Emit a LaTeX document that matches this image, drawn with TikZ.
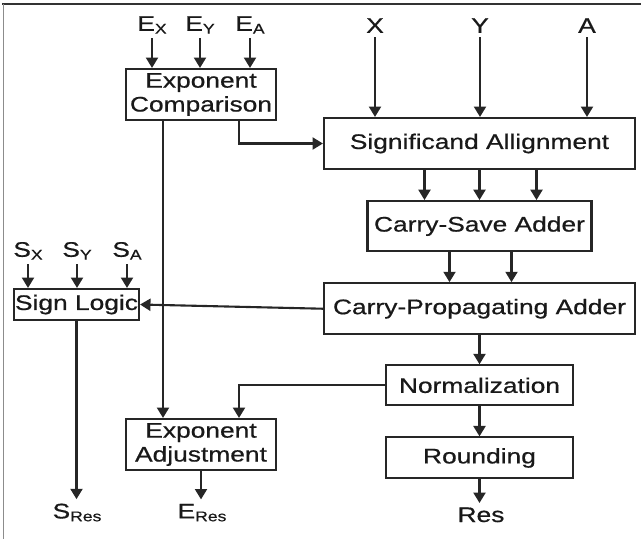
\documentclass[tikz,border=0pt]{standalone}
\usepackage{fontspec}
\setmainfont[FakeStretch=1.25, FakeBold=0.6]{Liberation Sans}
\usetikzlibrary{positioning, arrows.meta, calc}

\newcommand{\blkfont}{\fontsize{15}{17}\selectfont}
\newcommand{\subs}[1]{\raisebox{-2pt}{\fontsize{10}{10}\selectfont #1}}

\begin{document}
\begin{tikzpicture}[
    blk/.style={rectangle, draw=black!85, line width=1.5pt, fill=white, inner sep=0pt, align=center, text=black!90, font=\blkfont},
    lbl/.style={inner sep=3pt, anchor=base, text=black!90, font=\blkfont},
    arr/.style={-{Triangle[length=0.26cm, width=0.3cm]}, line width=1.5pt, draw=black!85},
    frame/.style={line width=1.4pt}
]
    \useasboundingbox (0,0) rectangle (16.025,-13.475);
    \draw[frame, draw=black!80] (0.06,-0.1) -- (16.025,-0.1);
    \draw[frame, draw=black!45] (0.0875,-0.1) -- (0.0875,-13.475);

    % blocks
    \node[blk, minimum width=3.75cm, minimum height=1.275cm] (expcmp) at (5.025,-2.3625) {Exponent\\Comparison};
    \node[blk, minimum width=7.775cm, minimum height=1.275cm] (sigal) at (11.9875,-3.5875) {Significand Allignment};
    \node[blk, minimum width=5.6cm, minimum height=1.25cm] (csa) [below=0.75cm of sigal] {Carry-Save Adder};
    \node[blk, minimum width=7.775cm, minimum height=1.275cm] (cpa) [below=0.75cm of csa] {Carry-Propagating Adder};
    \node[blk, minimum width=4.675cm, minimum height=1.0cm] (norm) [below=0.725cm of cpa] {Normalization};
    \node[blk, minimum width=4.675cm, minimum height=1.025cm] (round) [below=0.75cm of norm] {Rounding};
    \node[blk, minimum width=3.125cm, minimum height=0.775cm] (sign) at (1.9125,-7.6125) {Sign Logic};
    \node[blk, minimum width=3.75cm, minimum height=1.275cm] (expadj) at (5.025,-11.1125) {Exponent\\Adjustment};

    % inputs and outputs
    \node[lbl] (ex) at (3.8,-0.77) {E\subs{X}};
    \node[lbl] (ey) at (5.0,-0.77) {E\subs{Y}};
    \node[lbl] (ea) at (6.25,-0.77) {E\subs{A}};
    \node[lbl] (xin) at (9.375,-0.82) {X};
    \node[lbl] (yin) at (12.0,-0.82) {Y};
    \node[lbl] (ain) at (14.675,-0.82) {A};
    \node[lbl] (sx) at (0.7,-6.42) {S\subs{X}};
    \node[lbl] (sy) at (1.925,-6.42) {S\subs{Y}};
    \node[lbl] (sa) at (3.175,-6.42) {S\subs{A}};
    \node[lbl] (sres) at (1.925,-12.96) {S\subs{Res}};
    \node[lbl] (eres) at (5.05,-12.96) {E\subs{Res}};
    \node[lbl] (res) at (12.025,-13.05) {Res};

    \draw[arr] (ex) -- (ex |- expcmp.north);
    \draw[arr] (ey) -- (ey |- expcmp.north);
    \draw[arr] (ea) -- (ea |- expcmp.north);
    \draw[arr] (xin) -- (xin |- sigal.north);
    \draw[arr] (yin) -- (yin |- sigal.north);
    \draw[arr] (ain) -- (ain |- sigal.north);
    \draw[arr] (sx) -- (sx |- sign.north);
    \draw[arr] (sy) -- (sy |- sign.north);
    \draw[arr] (sa) -- (sa |- sign.north);

    \draw[arr] ([xshift=0.95cm]expcmp.south) |- (sigal.west);
    \draw[arr] ([xshift=-0.95cm]expcmp.south) -- ([xshift=-0.95cm]expadj.north);
    \draw[arr] ([xshift=-1.375cm]sigal.south) -- ([xshift=-1.375cm]sigal.south |- csa.north);
    \draw[arr] (sigal.south) -- (sigal.south |- csa.north);
    \draw[arr] ([xshift=1.425cm]sigal.south) -- ([xshift=1.425cm]sigal.south |- csa.north);
    \draw[arr] ([xshift=-0.75cm]csa.south) -- ([xshift=-0.75cm]csa.south |- cpa.north);
    \draw[arr] ([xshift=0.8cm]csa.south) -- ([xshift=0.8cm]csa.south |- cpa.north);
    \draw[arr] (cpa.west) -- (sign.east);
    \draw[arr] (cpa.south) -- (cpa.south |- norm.north);
    \draw[arr] (norm.west) -| ([xshift=0.95cm]expadj.north);
    \draw[arr] (norm.south) -- (round.north);
    \draw[arr] (round.south) -- (round.south |- res.north);
    \draw[arr] (sign.south) -- (sign.south |- sres.north);
    \draw[arr] (expadj.south) -- (expadj.south |- eres.north);
\end{tikzpicture}
\end{document}
